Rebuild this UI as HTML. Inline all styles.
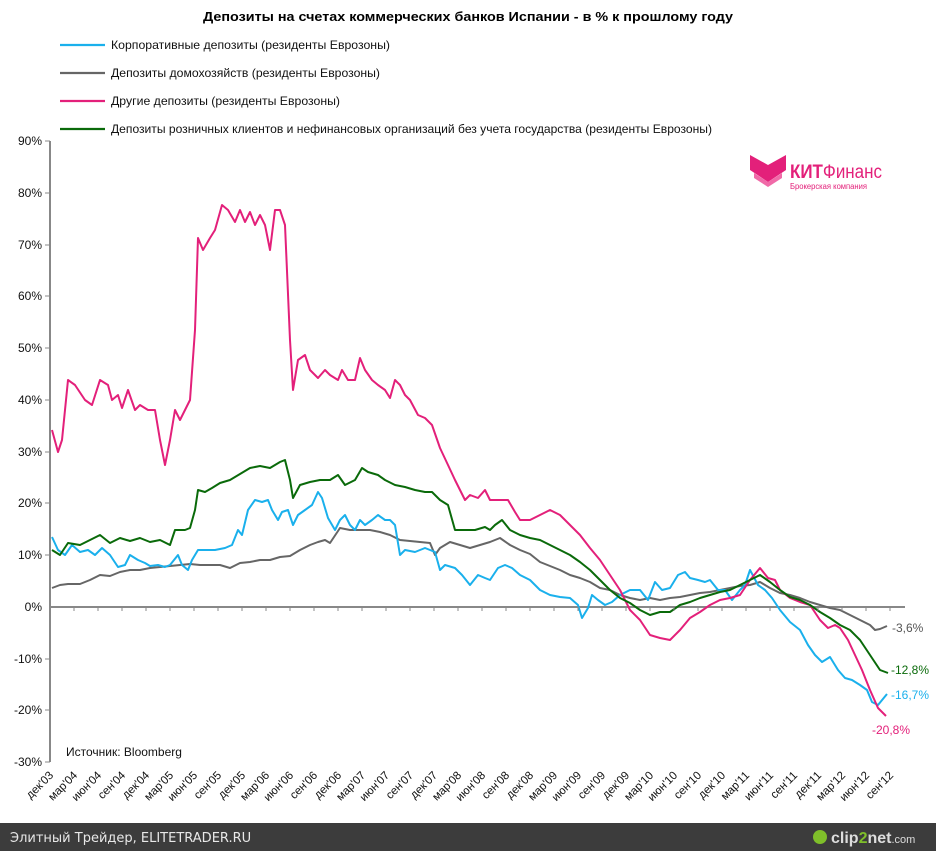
<!DOCTYPE html>
<html><head><meta charset="utf-8"><style>
body{margin:0;background:#fff;width:936px;height:851px;overflow:hidden;font-family:"Liberation Sans",sans-serif}
</style></head><body>
<svg width="936" height="851" xmlns="http://www.w3.org/2000/svg" font-family="Liberation Sans, sans-serif">
<rect width="936" height="851" fill="#fff"/>
<text x="468" y="21" text-anchor="middle" font-size="13" font-weight="bold" textLength="530" lengthAdjust="spacingAndGlyphs">Депозиты на счетах коммерческих банков Испании  - в % к прошлому году</text>
<g stroke-width="2.2">
<line x1="60" y1="45" x2="105" y2="45" stroke="#1ab0ec"/>
<line x1="60" y1="73" x2="105" y2="73" stroke="#666"/>
<line x1="60" y1="101" x2="105" y2="101" stroke="#e3207a"/>
<line x1="60" y1="129" x2="105" y2="129" stroke="#0a6a0a"/>
</g>
<g font-size="12" fill="#111">
<text x="111" y="49" textLength="279" lengthAdjust="spacingAndGlyphs">Корпоративные депозиты  (резиденты Еврозоны)</text>
<text x="111" y="77" textLength="269" lengthAdjust="spacingAndGlyphs">Депозиты домохозяйств (резиденты Еврозоны)</text>
<text x="111" y="105" textLength="229" lengthAdjust="spacingAndGlyphs">Другие депозиты (резиденты Еврозоны)</text>
<text x="111" y="133" textLength="601" lengthAdjust="spacingAndGlyphs">Депозиты розничных клиентов и нефинансовых организаций без учета государства (резиденты Еврозоны)</text>
</g>
<!-- logo -->
<g fill="#e3207a">
<path d="M750 155 L768 165 L786 155 L786 170 L768 182 L750 170 Z"/>
<path d="M754 173 L768 182 L782 173 L782 178 L768 187 L754 178 Z" fill="#f06aa8"/>
<text x="790" y="178" font-size="19" font-weight="bold" textLength="92" lengthAdjust="spacingAndGlyphs">КИТ<tspan font-weight="normal">Финанс</tspan></text>
<text x="790" y="189" font-size="8" textLength="77" lengthAdjust="spacingAndGlyphs">Брокерская компания</text>
</g>
<!-- axes -->
<g font-size="12" fill="#111" text-anchor="end">
<text x="42" y="145">90%</text><text x="42" y="197">80%</text><text x="42" y="249">70%</text>
<text x="42" y="300">60%</text><text x="42" y="352">50%</text><text x="42" y="404">40%</text>
<text x="42" y="456">30%</text><text x="42" y="507">20%</text><text x="42" y="559">10%</text>
<text x="42" y="611">0%</text><text x="42" y="663">-10%</text><text x="42" y="714">-20%</text>
<text x="42" y="766">-30%</text>
</g>
<line x1="50" y1="141" x2="50" y2="762" stroke="#888" stroke-width="2"/>
<g stroke="#888" stroke-width="1">
<line x1="45" y1="141" x2="50" y2="141"/><line x1="45" y1="193" x2="50" y2="193"/><line x1="45" y1="245" x2="50" y2="245"/><line x1="45" y1="296" x2="50" y2="296"/><line x1="45" y1="348" x2="50" y2="348"/><line x1="45" y1="400" x2="50" y2="400"/><line x1="45" y1="452" x2="50" y2="452"/><line x1="45" y1="503" x2="50" y2="503"/><line x1="45" y1="555" x2="50" y2="555"/><line x1="45" y1="659" x2="50" y2="659"/><line x1="45" y1="710" x2="50" y2="710"/><line x1="45" y1="762" x2="50" y2="762"/>
</g>
<line x1="50" y1="607" x2="905" y2="607" stroke="#888" stroke-width="2"/>
<g id="xl" font-size="11.5" fill="#111" text-anchor="end"></g>
<text x="66" y="756" font-size="12" fill="#111">Источник: Bloomberg</text>
<g fill="none" stroke-width="2" stroke-linejoin="round">
<polyline stroke="#666" points="52,588 60,585 68,584 80,584 90,580 100,575 110,576 120,572 130,570 140,570 150,568 160,567 170,566 180,565 190,564 200,565 210,565 220,565 230,568 240,563 250,562 260,560 270,560 280,557 290,556 300,550 310,545 318,542 325,540 330,543 340,528 350,530 360,530 370,530 380,532 390,535 400,540 410,541 420,542 430,543 435,555 440,548 450,542 460,545 470,548 480,545 490,542 500,538 510,545 520,550 530,554 540,562 550,566 560,570 570,575 580,578 590,582 600,588 610,590 620,595 630,598 640,600 650,598 660,600 670,598 680,597 690,595 700,593 710,592 720,590 730,588 740,586 750,585 760,582 770,588 780,593 790,595 800,598 810,602 820,605 830,608 840,610 850,615 860,620 870,625 875,630 880,629 887,626"/>
<polyline stroke="#1ab0ec" points="52,537 58,550 65,555 72,545 80,552 88,550 95,555 102,548 110,555 118,567 125,565 130,555 138,560 145,563 150,566 158,565 165,567 170,565 178,555 182,565 188,570 192,560 198,550 205,550 215,550 225,548 232,545 238,530 242,535 248,510 255,500 262,502 268,500 272,510 278,520 282,512 288,510 293,525 298,515 305,510 312,505 318,492 322,498 328,518 335,530 340,520 345,515 350,525 355,530 360,520 365,525 372,520 378,515 385,520 390,520 395,525 400,555 405,550 415,552 425,548 435,552 440,570 445,565 455,568 462,575 470,585 478,575 485,578 490,580 498,568 505,565 512,568 520,575 530,580 540,590 550,595 560,597 570,598 578,605 582,618 588,608 592,595 598,600 605,605 612,602 620,595 630,590 640,590 648,600 655,582 662,590 670,588 678,575 685,572 690,578 698,580 705,582 710,580 718,590 725,590 732,600 740,590 745,585 750,570 758,585 765,590 772,598 780,610 790,622 800,630 808,645 815,655 822,662 830,657 838,670 845,678 852,680 860,685 867,690 872,702 878,705 887,694"/>
<polyline stroke="#e3207a" points="52,430 58,452 62,440 68,380 75,385 85,400 92,405 100,380 108,385 112,400 118,395 122,408 128,390 135,410 140,405 148,410 155,410 160,440 165,465 170,440 175,410 180,420 185,410 190,400 195,330 198,238 203,250 210,238 215,230 222,205 228,210 235,222 240,210 245,222 250,212 255,225 260,215 265,225 270,250 275,210 280,210 285,225 290,340 293,390 298,360 305,355 310,370 318,378 325,370 330,375 338,380 342,370 348,380 355,380 360,358 365,370 372,380 378,385 385,390 390,398 395,380 400,385 405,395 410,400 418,415 425,418 432,425 440,448 448,465 455,480 460,490 465,500 470,495 478,498 485,490 490,500 495,500 502,500 508,500 515,512 520,520 530,520 540,515 550,510 560,515 570,525 580,535 590,548 600,560 610,575 620,590 630,610 640,620 650,635 660,638 670,640 680,630 690,618 700,612 710,605 720,600 730,598 740,595 750,580 760,568 768,578 775,580 780,590 790,598 800,602 810,605 820,620 828,628 835,625 840,628 848,640 855,655 862,670 870,690 878,708 886,716"/>
<polyline stroke="#0a6a0a" points="52,550 60,555 68,543 80,545 90,540 100,535 110,543 120,538 130,541 140,538 150,542 160,540 170,545 175,530 185,530 190,528 195,510 198,490 205,492 212,488 220,483 230,480 240,474 250,468 260,466 270,468 280,462 285,460 290,480 293,498 300,485 310,482 320,480 330,480 338,475 345,485 355,480 362,468 368,472 378,475 385,480 395,485 405,487 415,490 425,492 432,492 440,500 448,505 455,530 465,530 475,530 485,527 490,530 495,525 502,520 510,530 520,535 530,538 540,540 550,545 560,550 570,555 580,562 590,570 600,580 610,590 620,598 630,603 640,610 650,615 660,612 670,612 680,605 690,602 700,598 710,595 720,592 730,590 740,585 750,580 760,575 770,582 780,590 790,597 800,600 810,605 820,612 830,618 840,625 850,630 860,640 870,655 880,670 888,673"/>
</g>
<g font-size="12">
<text x="892" y="632" fill="#555">-3,6%</text>
<text x="891" y="674" fill="#0a6a0a">-12,8%</text>
<text x="891" y="699" fill="#1ab0ec">-16,7%</text>
<text x="872" y="734" fill="#e3207a">-20,8%</text>
</g>
<rect x="0" y="823" width="936" height="28" fill="#3c3c3c"/>
<text x="10" y="842" font-size="13" fill="#e8e8e8" font-family="DejaVu Sans, sans-serif">Элитный Трейдер, ELITETRADER.RU</text>
<circle cx="820" cy="837" r="7" fill="#7fbf2a"/>
<text x="831" y="843" font-size="16" font-weight="bold" fill="#ddd">clip<tspan fill="#7fbf2a">2</tspan>net<tspan font-size="11" font-weight="normal">.com</tspan></text>
</svg>
<script>
var m=["дек","мар","июн","сен"],g=document.getElementById("xl"),s="",ax=document.querySelector("svg");
var t="";
for(var k=0;k<36;k++){var x=50+24*k;var yr=3+Math.floor((k+3)/4);var lab=m[k%4]+"'"+(yr<10?"0":"")+yr;
t+='<line x1="'+x+'" y1="607" x2="'+x+'" y2="611" stroke="#888"/>';
s+='<text transform="translate('+(x+4)+',776) rotate(-45)">'+lab+'</text>';}
g.innerHTML=s;ax.insertAdjacentHTML("beforeend",t);
</script>
</body></html>
